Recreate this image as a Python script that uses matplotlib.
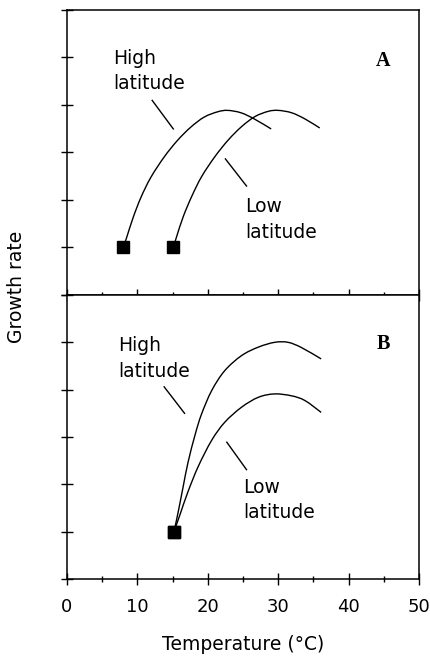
import matplotlib.pyplot as plt
from matplotlib.path import Path
from matplotlib.patches import PathPatch
from matplotlib.ticker import MultipleLocator

# panel A: growth curves (temperature, growth rate)
a_high_x = [8.0, 8.5, 9.4, 10.5, 11.9, 13.8, 15.7, 17.6, 19.5, 21.4, 22.8, 24.7, 26.6, 29.0]
a_high_y = [1.0, 1.22, 1.63, 2.05, 2.47, 2.90, 3.25, 3.53, 3.74, 3.85, 3.88, 3.83, 3.70, 3.49]
a_low_x = [15.1, 15.58, 16.52, 17.71, 19.13, 21.02, 22.92, 24.81, 26.7, 28.6, 30.0, 31.9, 33.8, 35.9]
a_low_y = [1.0, 1.23, 1.65, 2.07, 2.49, 2.91, 3.26, 3.54, 3.75, 3.86, 3.88, 3.83, 3.70, 3.51]

# panel B
b_high_x = [15.2, 15.8, 16.5, 17.2, 18.2, 19.1, 20.55, 22.4, 24.8, 27.2, 29.5, 31.4, 33.3, 36.1]
b_high_y = [1.0, 1.42, 1.95, 2.47, 3.05, 3.48, 3.98, 4.40, 4.72, 4.90, 5.0, 5.0, 4.89, 4.65]
b_low_x = [15.2, 16.05, 17.2, 18.65, 20.55, 22.4, 24.8, 27.2, 29.5, 31.9, 33.8, 36.1]
b_low_y = [1.0, 1.36, 1.85, 2.38, 2.93, 3.31, 3.63, 3.84, 3.91, 3.87, 3.77, 3.52]

# label leader lines: ((x0, x1), (y0, y1))
a_leaders = [((12.1, 15.1), (4.09, 3.49)), ((22.5, 25.5), (2.86, 2.29))]
b_leaders = [((13.8, 16.7), (4.06, 3.50)), ((22.7, 25.5), (2.89, 2.31))]

a_labels = [(6.6, 5.18, 'High\nlatitude'), (25.3, 2.06, 'Low\nlatitude')]
b_labels = [(7.3, 5.13, 'High\nlatitude'), (25.0, 2.14, 'Low\nlatitude')]

plt.rcParams['font.family'] = ['DejaVu Sans']

fig = plt.figure(figsize=(4.31, 6.58), dpi=100)
L, W = 67 / 431, (419 - 67) / 431
axA = fig.add_axes([L, 1 - 295 / 658, W, (295 - 9.5) / 658])
axB = fig.add_axes([L, 1 - 579 / 658, W, (579 - 295) / 658])


def smooth_path(xs, ys):
    # cubic bezier through the read points (catmull-rom style handles)
    pts = list(zip(xs, ys))
    verts, codes = [pts[0]], [Path.MOVETO]
    n = len(pts)
    for i in range(n - 1):
        p0 = pts[max(i - 1, 0)]
        p1, p2 = pts[i], pts[i + 1]
        p3 = pts[min(i + 2, n - 1)]
        c1 = (p1[0] + (p2[0] - p0[0]) / 6, p1[1] + (p2[1] - p0[1]) / 6)
        c2 = (p2[0] - (p3[0] - p1[0]) / 6, p2[1] - (p3[1] - p1[1]) / 6)
        verts += [c1, c2, p2]
        codes += [Path.CURVE4] * 3
    return Path(verts, codes)


def style(ax, show_x):
    ax.set_xlim(0, 50)
    ax.set_ylim(0, 6)
    ax.xaxis.set_major_locator(MultipleLocator(10))
    ax.xaxis.set_minor_locator(MultipleLocator(5))
    ax.yaxis.set_major_locator(MultipleLocator(1))
    for s in ax.spines.values():
        s.set_linewidth(1.1)
    ax.tick_params(which='major', direction='inout', length=9, width=1.0)
    ax.tick_params(which='minor', direction='inout', length=5, width=1.0)
    ax.tick_params(axis='y', labelleft=False)
    ax.tick_params(axis='x', labelbottom=show_x, labelsize=13, pad=9)


def panel(ax, hx, hy, lx, ly, leaders, labels, letter, ly_letter):
    for x, y in ((hx, hy), (lx, ly)):
        ax.add_patch(PathPatch(smooth_path(x, y), fill=False,
                               edgecolor='black', lw=1.0))
        ax.plot(x[:1], y[:1], color='black', marker='s', ms=8, ls='none')
    for xs, ys in leaders:
        ax.plot(xs, ys, color='black', lw=1.0)
    for x, y, t in labels:
        ax.text(x, y, t, fontsize=13.5, ha='left', va='top', linespacing=1.45)
    ax.text(44.9, ly_letter, letter, fontsize=14.5, fontweight='bold',
            family=['Liberation Serif', 'DejaVu Serif'], ha='center', va='center')


style(axA, False)
style(axB, True)
panel(axA, a_high_x, a_high_y, a_low_x, a_low_y, a_leaders, a_labels, 'A', 4.92)
panel(axB, b_high_x, b_high_y, b_low_x, b_low_y, b_leaders, b_labels, 'B', 4.96)

axB.set_xlabel('Temperature (°C)', fontsize=13.5, labelpad=14)
fig.text(17 / 431, 1 - 287 / 658, 'Growth rate', rotation=90, fontsize=13.5,
         ha='center', va='center')

fig.savefig('out.png', dpi=100)
